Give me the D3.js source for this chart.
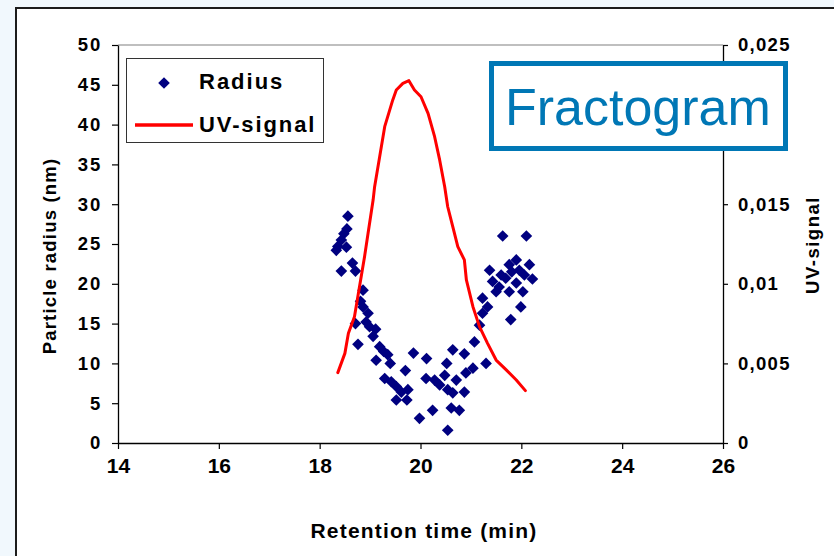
<!DOCTYPE html>
<html>
<head>
<meta charset="utf-8">
<script src="https://cdn.jsdelivr.net/npm/d3@7"></script>
<style>
  html, body { margin: 0; padding: 0; background: #f1f8fd; }
  svg { display: block; }
  text { font-family: "Liberation Sans", Arial, sans-serif; }
</style>
</head>
<body>
<svg id="chart" width="834" height="556"></svg>
<script>
// Particle radius measurements (retention time in min, radius in nm)
const radiusTime = [
  18.56, 18.54, 18.48, 18.43, 18.36, 18.33, 18.53, 18.43, 18.65, 18.71,
  18.86, 18.81, 18.86, 18.96, 18.71, 18.92, 18.99, 19.11, 19.06, 18.76,
  19.19, 19.27, 19.35, 19.12, 19.40, 19.29, 19.42, 19.70, 19.52, 19.62,
  19.75, 19.52, 19.73, 19.86, 20.12, 19.98, 20.24, 20.54,
  20.11, 20.28, 20.38, 20.52, 20.64, 20.48, 20.54, 20.64, 20.71, 20.61,
  20.77, 20.87, 20.90, 20.87, 21.07, 21.04, 21.30,
  21.17, 21.23, 21.33, 21.23, 21.37, 21.43, 21.56, 21.63, 22.10, 21.90,
  22.16, 22.22, 22.03, 21.99, 21.79, 21.69, 21.81, 21.76, 21.96, 22.06,
  21.90, 21.60, 21.50, 21.76
];
const radiusNm = [
  28.5, 26.9, 26.3, 25.5, 24.7, 24.2, 24.6, 21.6, 22.6, 21.6,
  19.2, 17.8, 17.1, 16.3, 15.0, 15.2, 14.6, 14.3, 13.4, 12.4,
  12.1, 11.5, 11.1, 10.4, 10.0, 8.1, 7.7, 9.1, 7.1, 6.4,
  6.7, 5.4, 5.4, 11.3, 10.6, 3.1, 4.1, 1.6,
  8.1, 7.9, 7.3, 10.0, 11.7, 8.5, 6.7, 6.3, 7.9, 4.4,
  4.1, 6.4, 8.8, 11.2, 12.7, 9.4, 10.0,
  14.8, 16.3, 17.1, 18.2, 21.7, 20.3, 19.6, 26.0, 26.0, 23.0,
  22.4, 20.6, 19.0, 17.1, 15.5, 20.7, 21.5, 22.4, 21.7, 21.1,
  20.1, 21.1, 19.0, 19.0
];

// UV detector trace
const uvTime = [
  18.36, 18.50, 18.57, 18.69, 18.79, 18.89, 18.96, 19.06, 19.09, 19.19,
  19.29, 19.45, 19.52, 19.65, 19.77, 19.88, 20.01, 20.15, 20.28, 20.38,
  20.48, 20.54, 20.64, 20.74, 20.87, 20.91, 21.04, 21.17, 21.33, 21.50,
  21.70, 21.90, 22.08
];
const uvSignal = [
  0.00442, 0.00563, 0.00689, 0.00793, 0.00982, 0.01170, 0.01317, 0.01526, 0.01610, 0.01798,
  0.01987, 0.02155, 0.02217, 0.02259, 0.02276, 0.02217, 0.02175, 0.02071, 0.01924, 0.01778,
  0.01610, 0.01484, 0.01359, 0.01233, 0.01150, 0.01024, 0.00856, 0.00731, 0.00626, 0.00521,
  0.00459, 0.00396, 0.00329
];

const xTicks = [14, 16, 18, 20, 22, 24, 26];
const yTicks = [0, 5, 10, 15, 20, 25, 30, 35, 40, 45, 50];
// the 0,02 position sits beneath the title box
const uvTicks = [0, 0.005, 0.01, 0.015, 0.025];
const uvTickLabels = ["0", "0,005", "0,01", "0,015", "0,025"];

const svg = d3.select("#chart");
const plotLeft = 118, plotRight = 723, plotTop = 45, plotBottom = 443;

const x = d3.scaleLinear().domain([14, 26]).range([plotLeft, plotRight]);
const y = d3.scaleLinear().domain([0, 50]).range([plotBottom, plotTop]);
const yUv = d3.scaleLinear().domain([0, 0.025]).range([plotBottom, plotTop]);

// white panel with dark frame
svg.append("rect")
  .attr("x", 16).attr("y", 8).attr("width", 900).attr("height", 600)
  .attr("fill", "#ffffff").attr("stroke", "#1c1c1c").attr("stroke-width", 2);

// plot area top border
svg.append("line")
  .attr("x1", plotLeft).attr("x2", plotRight).attr("y1", plotTop).attr("y2", plotTop)
  .attr("stroke", "#808080").attr("stroke-width", 1.2);

const tickFont = 18.5;
const fontFamily = "Liberation Sans, Arial, sans-serif";

// left axis
const gLeft = svg.append("g").attr("transform", `translate(${plotLeft},0)`)
  .call(d3.axisLeft(y).tickValues(yTicks).tickSize(6).tickPadding(10).tickSizeOuter(0));
gLeft.selectAll("text")
  .attr("font-size", tickFont).attr("font-weight", "bold").attr("fill", "#000")
  .attr("letter-spacing", 1.8).attr("font-family", fontFamily);

// bottom axis
const gBottom = svg.append("g").attr("transform", `translate(0,${plotBottom})`)
  .call(d3.axisBottom(x).tickValues(xTicks).tickSize(6).tickPadding(9).tickSizeOuter(0));
gBottom.selectAll("text")
  .attr("font-size", 21).attr("font-weight", "bold").attr("fill", "#000")
  .attr("font-family", fontFamily);

// right axis (UV signal)
const gRight = svg.append("g").attr("transform", `translate(${plotRight},0)`)
  .call(d3.axisRight(yUv).tickValues(uvTicks)
    .tickFormat((d, i) => uvTickLabels[i]).tickSize(5).tickPadding(10).tickSizeOuter(0));
gRight.selectAll("text")
  .attr("font-size", tickFont).attr("font-weight", "bold").attr("fill", "#000")
  .attr("letter-spacing", 1.3).attr("font-family", fontFamily);

[gLeft, gBottom, gRight].forEach(g => {
  g.selectAll("path.domain").attr("stroke", "#000").attr("stroke-width", 1.3);
  g.selectAll(".tick line").attr("stroke", "#000").attr("stroke-width", 1.2);
});

// axis titles
svg.append("text")
  .attr("transform", "translate(56,256) rotate(-90)")
  .attr("text-anchor", "middle")
  .attr("font-size", 18.5).attr("font-weight", "bold").attr("letter-spacing", 1.2)
  .text("Particle radius (nm)");

svg.append("text")
  .attr("x", 424).attr("y", 538)
  .attr("text-anchor", "middle")
  .attr("font-size", 21).attr("font-weight", "bold").attr("letter-spacing", 1.2)
  .text("Retention time (min)");

svg.append("text")
  .attr("transform", "translate(819,245) rotate(-90)")
  .attr("text-anchor", "middle")
  .attr("font-size", 18.5).attr("font-weight", "bold").attr("letter-spacing", 1.5)
  .text("UV-signal");

// radius markers (square diamonds)
const diamond = d3.symbol().type(d3.symbolSquare).size(68);
svg.append("g").selectAll("path")
  .data(radiusTime.map((t, i) => [t, radiusNm[i]]))
  .join("path")
  .attr("d", diamond)
  .attr("transform", d => `translate(${x(d[0])},${y(d[1])}) rotate(45)`)
  .attr("fill", "#000080");

// UV trace
const uvLine = d3.line().x(d => x(d[0])).y(d => yUv(d[1]));
svg.append("path")
  .datum(uvTime.map((t, i) => [t, uvSignal[i]]))
  .attr("d", uvLine)
  .attr("fill", "none").attr("stroke", "#ff0000").attr("stroke-width", 3)
  .attr("stroke-linejoin", "round").attr("stroke-linecap", "round");

// legend
const legend = svg.append("g");
legend.append("rect")
  .attr("x", 126.5).attr("y", 58.5).attr("width", 197).attr("height", 84)
  .attr("fill", "#fff").attr("stroke", "#333").attr("stroke-width", 1);
legend.append("path")
  .attr("d", diamond)
  .attr("transform", "translate(164,83) rotate(45)")
  .attr("fill", "#000080");
legend.append("line")
  .attr("x1", 135).attr("x2", 193).attr("y1", 125).attr("y2", 125)
  .attr("stroke", "#ff0000").attr("stroke-width", 3.5);
legend.append("text")
  .attr("x", 199).attr("y", 89)
  .attr("font-size", 22).attr("font-weight", "bold").attr("letter-spacing", 2)
  .text("Radius");
legend.append("text")
  .attr("x", 199).attr("y", 132)
  .attr("font-size", 22).attr("font-weight", "bold").attr("letter-spacing", 1.9)
  .text("UV-signal");

// title box
const title = svg.append("g");
title.append("rect")
  .attr("x", 491.5).attr("y", 63.5).attr("width", 294).attr("height", 85)
  .attr("fill", "#fff").attr("stroke", "#0077b5").attr("stroke-width", 5);
title.append("text")
  .attr("x", 505).attr("y", 125)
  .attr("font-size", 52).attr("fill", "#0077b5")
  .text("Fractogram");
</script>
</body>
</html>
